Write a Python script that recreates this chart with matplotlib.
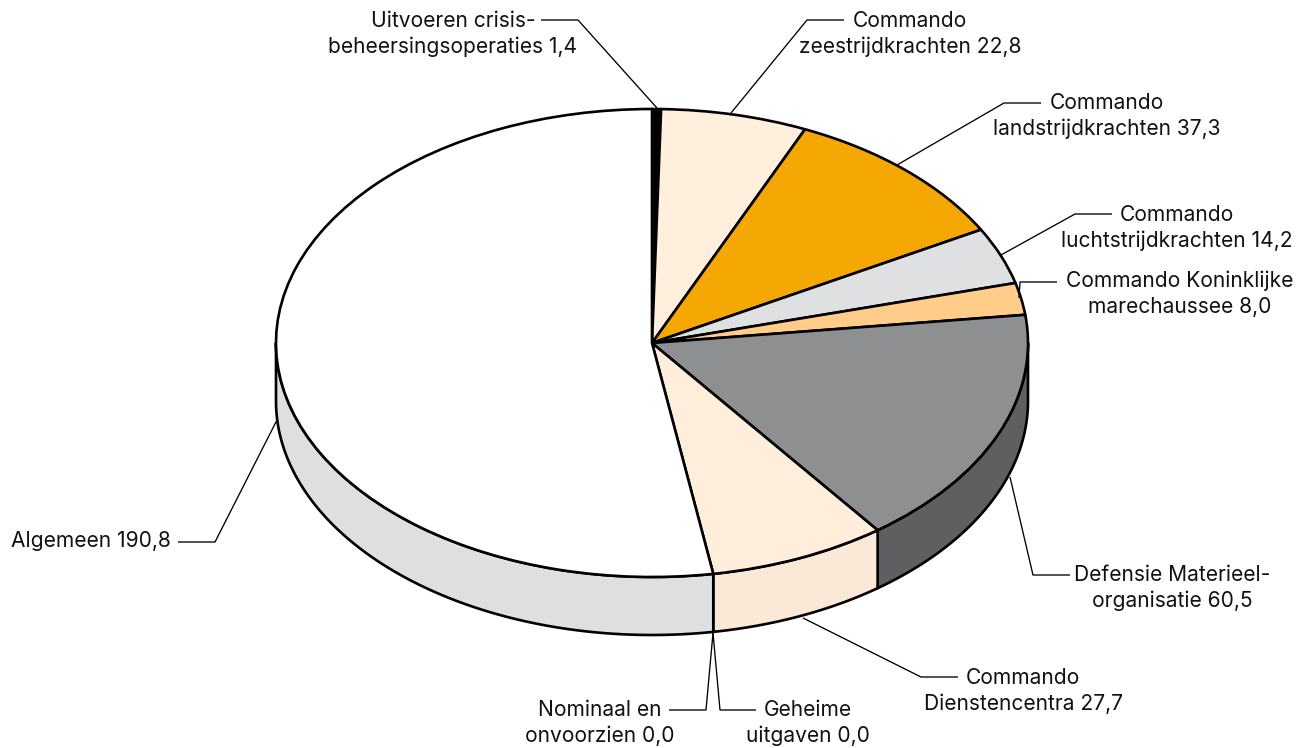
import numpy as np
import matplotlib
matplotlib.use("Agg")
import matplotlib.pyplot as plt
from matplotlib.patches import Wedge, Polygon
from matplotlib.transforms import Affine2D

categories = ["Uitvoeren crisis-\nbeheersingsoperaties", "Commando\nzeestrijdkrachten",
              "Commando\nlandstrijdkrachten", "Commando\nluchtstrijdkrachten",
              "Commando Koninklijke\nmarechaussee", "Defensie Materieel-\norganisatie",
              "Commando\nDienstencentra", "Nominaal en\nonvoorzien", "Geheime\nuitgaven", "Algemeen"]
values = [1.4, 22.8, 37.3, 14.2, 8.0, 60.5, 27.7, 0.0, 0.0, 190.8]
value_labels = ["1,4", "22,8", "37,3", "14,2", "8,0", "60,5", "27,7", "0,0", "0,0", "190,8"]
top_colors = ["#000000", "#FFEFDC", "#F5A804", "#DFE0E2", "#FFCC8A", "#8E8F91", "#FFEEDC", "#FFFFFF", "#FFFFFF", "#FFFFFF"]
wall_colors = ["#000000", "#FAE9D7", "#C98A00", "#B8B9BB", "#E0A870", "#5E5F61", "#FAE9D7", "#DEDFE1", "#DEDFE1", "#DEDFE1"]

label_xy = [(453, 34), (910, 34), (1107, 116), (1177, 228), (1180, 294), (1172, 588), (1023, 691), (600, 723), (808, 723), (91, 541)]
leaders = [
    [(541, 20), (578, 20), (657, 108)],
    [(844, 20), (807, 20), (731, 113)],
    [(1041, 103), (1004, 103), (897, 165)],
    [(1112, 214), (1075, 214), (1001, 255)],
    [(1057, 282), (1020, 282), (1019, 298)],
    [(1070, 575), (1033, 575), (1010, 477)],
    [(958, 677), (921, 677), (803, 618)],
    [(669, 710), (706, 710), (713, 633)],
    [(756, 710), (720, 710), (713, 633)],
    [(178, 542), (215, 542), (277, 420)],
]

CX, CY, RX, RY, DEPTH = 652, 343, 376, 234, 58
LW = 1.9

plt.rcParams["font.family"] = ["Inter", "DejaVu Sans"]
fig = plt.figure(figsize=(13.09, 7.48), dpi=100)
ax = fig.add_axes([0, 0, 1, 1])
ax.set_xlim(0, 1309)
ax.set_ylim(748, 0)
ax.axis("off")

fractions = np.array(values) / sum(values)
edges = np.concatenate([[0], np.cumsum(fractions)]) * 2 * np.pi  # clockwise from top

def pt(t, dy=0):
    return CX + RX * np.sin(t), CY - RY * np.cos(t) + dy

# side walls (only the front half, t between pi/2 and 3pi/2, is visible)
for i in range(len(values)):
    a = max(edges[i], np.pi / 2)
    b = min(edges[i + 1], 3 * np.pi / 2)
    if b <= a:
        continue
    t = np.linspace(a, b, 200)
    x, y = pt(t)
    xb, yb = pt(t[::-1], DEPTH)
    ax.add_patch(Polygon(np.column_stack([np.r_[x, xb], np.r_[y, yb]]), closed=True,
                         facecolor=wall_colors[i], edgecolor="black", lw=LW, joinstyle="round", zorder=1))

# top surface: unit wedges mapped on to the ellipse (y axis points down)
tr = Affine2D().scale(RX, RY).translate(CX, CY) + ax.transData
for i in range(len(values)):
    if values[i] == 0:
        continue
    th1 = np.degrees(edges[i]) - 90
    th2 = np.degrees(edges[i + 1]) - 90
    ax.add_patch(Wedge((0, 0), 1, th1, th2, facecolor=top_colors[i], edgecolor="black",
                       lw=LW, joinstyle="round", transform=tr, zorder=2))

# leader lines and labels
for pts in leaders:
    xs, ys = zip(*pts)
    ax.plot(xs, ys, color="black", lw=0.95, zorder=3, solid_capstyle="butt")
for name, val, (x, y) in zip(categories, value_labels, label_xy):
    ax.text(x, y, f"{name} {val}", ha="center", va="center", fontsize=15.1, color="#111111",
            linespacing=1.39, zorder=4)

fig.savefig("out.png", dpi=100, facecolor="white")
